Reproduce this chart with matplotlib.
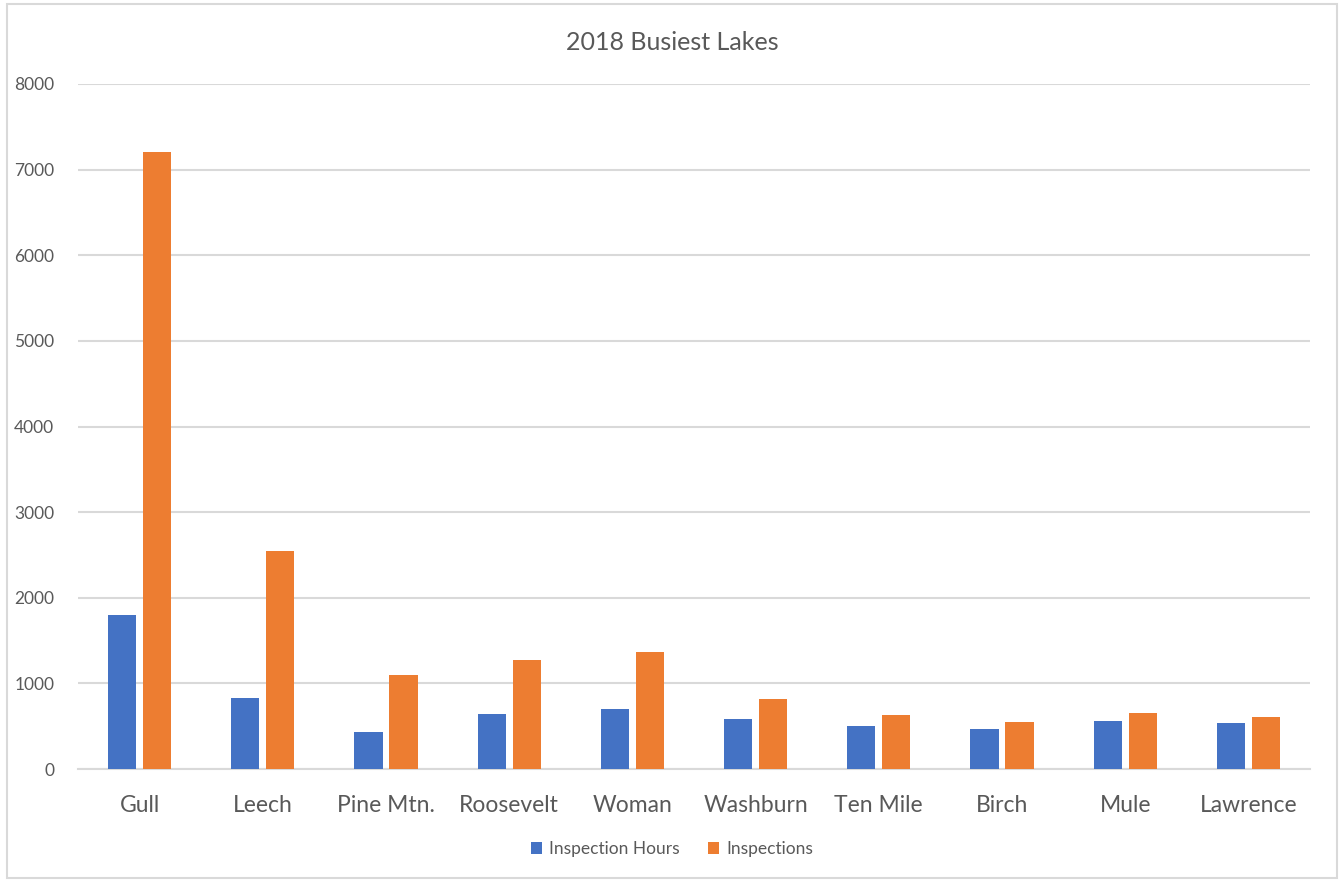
import matplotlib
matplotlib.use("Agg")
import matplotlib.pyplot as plt
import numpy as np
from matplotlib.patches import Rectangle

categories = ["Gull", "Leech", "Pine Mtn.", "Roosevelt", "Woman", "Washburn",
              "Ten Mile", "Birch", "Mule", "Lawrence"]
inspection_hours = [1800, 830, 430, 645, 705, 586, 505, 465, 563, 539]
inspections = [7211, 2542, 1098, 1272, 1365, 814, 632, 551, 656, 609]
yticks = [0, 1000, 2000, 3000, 4000, 5000, 6000, 7000, 8000]

plt.rcParams['font.family'] = ['Lato', 'DejaVu Sans']
txt = "#595959"

W, H = 1344, 882
fig = plt.figure(figsize=(W / 100, H / 100), dpi=100)
ax = fig.add_axes([78 / W, 1 - 769 / H, (1310 - 78) / W, (769 - 84) / H])

x = np.arange(len(categories))
bw = 0.23
off = 0.142
ax.bar(x - off, inspection_hours, bw, color="#4472C4", label="Inspection Hours", zorder=3)
ax.bar(x + off, inspections, bw, color="#ED7D31", label="Inspections", zorder=3)

ax.set_xlim(-0.5, len(categories) - 0.5)
ax.set_ylim(0, 8000)
ax.set_yticks(yticks)
ax.set_yticklabels([str(t) for t in yticks], color=txt, fontsize=12.5)
ax.set_xticks(x)
ax.set_xticklabels(categories, color=txt, fontsize=16.5)
ax.tick_params(axis='both', length=0)
ax.tick_params(axis='y', pad=17)
ax.tick_params(axis='x', pad=19)
ax.grid(axis='y', color="#D9D9D9", linewidth=1.5, zorder=0)
for s in ["top", "right", "left"]:
    ax.spines[s].set_visible(False)
ax.spines["bottom"].set_color("#D9D9D9")
ax.spines["bottom"].set_linewidth(1.5)

fig.text(0.5, 1 - 43 / H, "2018 Busiest Lakes", ha="center", va="center",
         fontsize=18, color=txt)

leg = fig.legend(loc="center", bbox_to_anchor=(672 / W, 1 - 849 / H), ncol=2,
                 frameon=False, fontsize=12.5, handlelength=0.65, handleheight=0.65,
                 columnspacing=1.6, handletextpad=0.4)
for t in leg.get_texts():
    t.set_color(txt)

fig.patches.append(Rectangle((7 / W, 4 / H), (1337 - 7) / W, (878 - 4) / H,
                             transform=fig.transFigure, fill=False,
                             edgecolor="#D9D9D9", linewidth=1.5))

fig.savefig("out.png", dpi=100, facecolor="white")
